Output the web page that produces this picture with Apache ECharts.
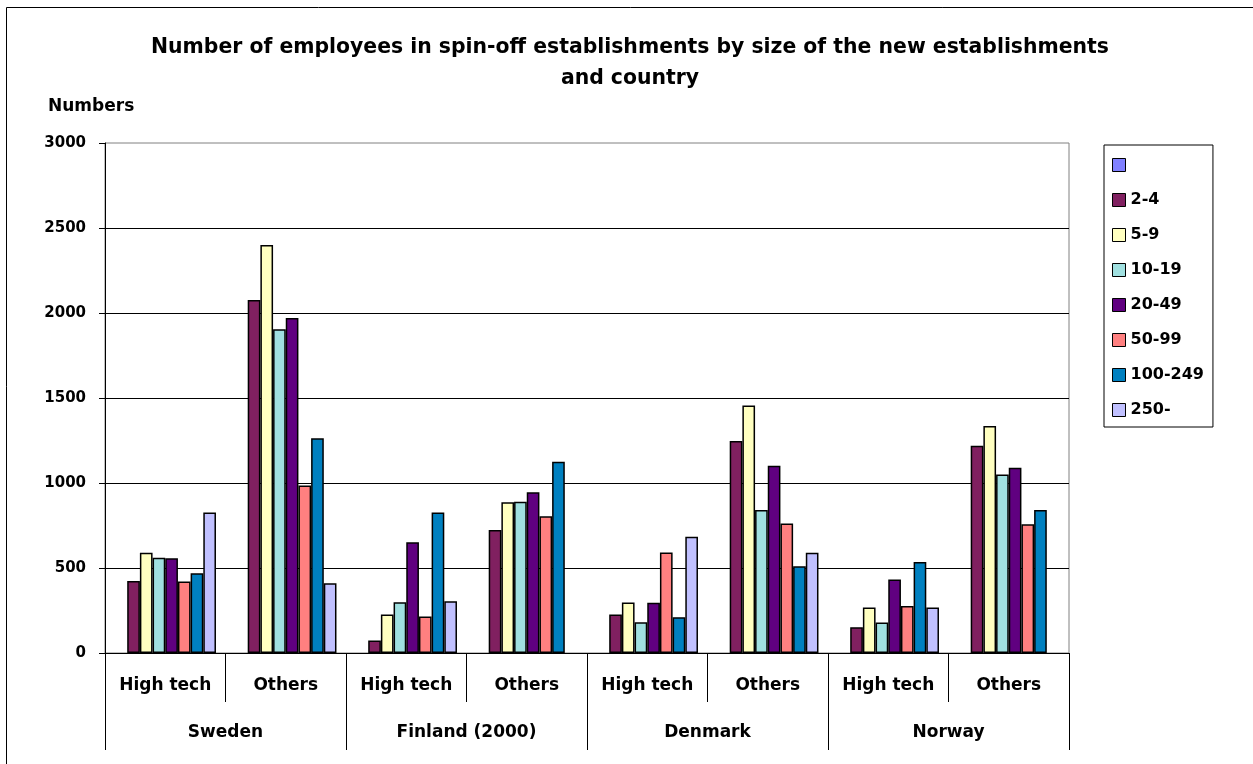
<!DOCTYPE html>
<html>
<head>
<meta charset="utf-8">
<title>Spin-off establishments</title>
<script src="https://cdn.jsdelivr.net/npm/echarts@6/dist/echarts.min.js"></script>
<style>
  html, body { margin: 0; padding: 0; background: #fff; }
  #chart { width: 1253px; height: 764px; }
</style>
</head>
<body>
<div id="chart"></div>
<script>
// Sub-categories along the x axis (two per country) and the country groups
const categories = ['High tech', 'Others', 'High tech', 'Others', 'High tech', 'Others', 'High tech', 'Others'];
const countries = ['Sweden', 'Finland (2000)', 'Denmark', 'Norway'];

// Employees per size class of the new establishment
const sizeBlank = [null, null, null, null, null, null, null, null];
const size2to4 = [423, 2076, 73, 723, 227, 1247, 152, 1219];
const size5to9 = [589, 2400, 227, 887, 297, 1456, 268, 1336];
const size10to19 = [561, 1904, 299, 890, 181, 841, 179, 1050];
const size20to49 = [557, 1971, 652, 946, 296, 1101, 433, 1089];
const size50to99 = [421, 985, 215, 804, 591, 762, 276, 758];
const size100to249 = [469, 1263, 827, 1125, 211, 510, 536, 841];
const size250plus = [827, 410, 305, null, 684, 589, 268, null];

const yTicks = { min: 0, max: 3000, interval: 500 };

const seriesDefs = [
  { name: ' ', data: sizeBlank, color: '#8080FF' },
  { name: '2-4', data: size2to4, color: '#802060' },
  { name: '5-9', data: size5to9, color: '#FFFFC0' },
  { name: '10-19', data: size10to19, color: '#A0E0E0' },
  { name: '20-49', data: size20to49, color: '#600080' },
  { name: '50-99', data: size50to99, color: '#FF8080' },
  { name: '100-249', data: size100to249, color: '#0080C0' },
  { name: '250-', data: size250plus, color: '#C0C0FF' }
];

const FONT = 'DejaVu Sans';
const chart = echarts.init(document.getElementById('chart'), null, { renderer: 'canvas' });

chart.setOption({
  animation: false,
  backgroundColor: '#fff',
  title: [
    {
      text: 'Number of employees in spin-off establishments by size of the new establishments\nand country',
      left: 630,
      top: 32,
      padding: 0,
      textAlign: 'center',
      textStyle: { fontFamily: FONT, fontWeight: 'bold', fontSize: 20.4, lineHeight: 31, color: '#000' }
    },
    {
      text: 'Numbers',
      left: 48,
      top: 98,
      padding: 0,
      textStyle: { fontFamily: FONT, fontWeight: 'bold', fontSize: 17, lineHeight: 18, color: '#000' }
    }
  ],
  legend: {
    orient: 'vertical',
    left: 1104,
    top: 145,
    padding: [12, 9, 9, 8],
    borderColor: '#000',
    borderWidth: 1,
    itemWidth: 13,
    itemHeight: 13,
    itemGap: 19,
    icon: 'rect',
    itemStyle: { borderColor: '#000', borderWidth: 1 },
    textStyle: { fontFamily: FONT, fontWeight: 'bold', fontSize: 16, lineHeight: 16, color: '#000' },
    data: seriesDefs.map(s => s.name)
  },
  grid: {
    left: 105,
    right: 184,
    top: 143,
    bottom: 111,
    show: true,
    borderColor: '#808080',
    borderWidth: 1,
    containLabel: false
  },
  xAxis: [
    {
      type: 'category',
      data: categories,
      position: 'bottom',
      axisLine: { show: true, lineStyle: { color: '#000', width: 1 } },
      axisTick: { show: true, interval: 0, length: 49, lineStyle: { color: '#000' } },
      axisLabel: { interval: 0, margin: 24, fontFamily: FONT, fontWeight: 'bold', fontSize: 17, color: '#000' },
      splitLine: { show: false }
    },
    {
      type: 'category',
      data: countries,
      position: 'bottom',
      axisLine: { show: false },
      axisTick: { show: true, interval: 0, length: 97, lineStyle: { color: '#000' } },
      axisLabel: { interval: 0, margin: 71, fontFamily: FONT, fontWeight: 'bold', fontSize: 17, color: '#000' },
      splitLine: { show: false }
    }
  ],
  yAxis: {
    type: 'value',
    min: yTicks.min,
    max: yTicks.max,
    interval: yTicks.interval,
    axisLine: { show: true, lineStyle: { color: '#000', width: 1 } },
    axisTick: { show: true, length: 6, lineStyle: { color: '#000' } },
    axisLabel: {
      margin: 19, fontFamily: FONT, fontWeight: 'bold', fontSize: 15, color: '#000',
      formatter: v => String(v)
    },
    splitLine: { show: true, showMaxLine: false, lineStyle: { color: '#000', width: 1 } }
  },
  series: seriesDefs.map(s => ({
    name: s.name,
    type: 'bar',
    xAxisIndex: 0,
    data: s.data,
    barGap: '0%',
    barCategoryGap: '15.8%',
    itemStyle: { color: s.color, borderColor: '#000', borderWidth: 1.5 },
    emphasis: { disabled: true }
  })),
  graphic: [
    {
      type: 'rect',
      silent: true,
      shape: { x: 6.5, y: 7.5, width: 1400, height: 900 },
      style: { fill: 'none', stroke: '#000', lineWidth: 1 },
      z: 100
    }
  ]
});
</script>
</body>
</html>
